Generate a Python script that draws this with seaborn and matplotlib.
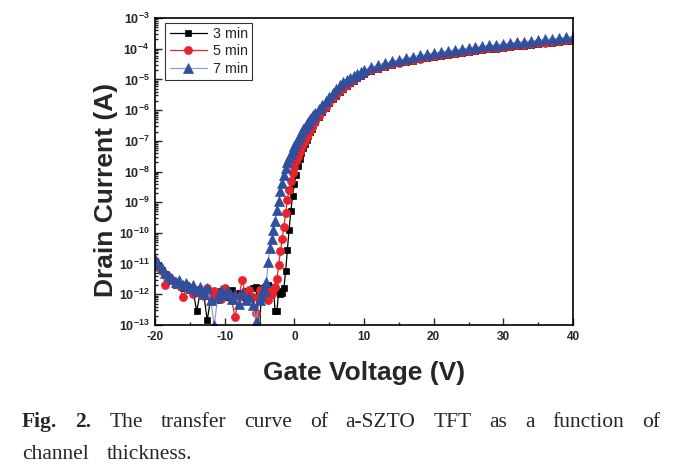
import numpy as np
import pandas as pd
import matplotlib
matplotlib.use('Agg')
import matplotlib.pyplot as plt
import seaborn as sns
from matplotlib.ticker import FixedLocator, LogLocator, FuncFormatter, NullFormatter

# gate voltage sweep (V)
vg_off = [-20, -19.5, -19, -18.5, -18, -17.5, -17, -16.5, -16, -15.5, -15, -14.5, -14, -13.5, -13,
          -12.5, -12, -11.5, -11, -10.5, -10, -9.5, -9, -8.5, -8, -7.5, -7, -6.5, -6, -5.5]
vg_mid = [-5, -4.75, -4.5, -4.25, -4, -3.75, -3.5, -3.25, -3, -2.75, -2.5, -2.25, -2, -1.75, -1.5, -1.25,
          -1, -0.75, -0.5, -0.25, 0, 0.25, 0.5, 0.75, 1, 1.25, 1.5, 1.75, 2, 2.25, 2.5, 2.75]
vg_on1 = [3, 3.5, 4, 4.5, 5, 5.5, 6, 6.5, 7, 7.5, 8, 8.5, 9, 9.5, 10]
vg_on2 = [11, 12, 13, 14, 15, 16, 17, 18, 19, 20, 21, 22, 23, 24, 25, 26, 27, 28, 29, 30,
          31, 32, 33, 34, 35, 36, 37, 38, 39, 40]
gate_v = vg_off + vg_mid + vg_on1 + vg_on2

# log10 of drain current (A)
log_id_3min = [-10.9, -11.05, -11.2, -11.35, -11.45, -11.55, -11.7, -11.65, -11.8, -11.7, -11.85, -11.95, -12.55, -11.9, -12.0,
               -12.85, -12.1, -11.95, -12.2, -11.9, -12.1, -12.0, -11.85, -12.2, -11.95, -12.1, -11.9, -12.05, -11.8, -11.75,
               -13.5, -11.8, -11.85, -11.75, -11.8, -11.7, -11.8, -11.75, -11.85, -12.55, -12.55, -11.9, -12.0, -11.95, -11.8, -11.25,
               -10.55, -9.9, -9.28, -8.8, -8.42, -8.1, -7.82, -7.6, -7.4, -7.24, -7.1, -6.97, -6.84, -6.72, -6.6, -6.5,
               -6.40, -6.23, -6.07, -5.92, -5.78, -5.65, -5.54, -5.42, -5.31, -5.21, -5.12, -5.04, -4.96, -4.89, -4.83,
               -4.73, -4.65, -4.59, -4.53, -4.48, -4.44, -4.39, -4.35, -4.31, -4.27, -4.23, -4.20, -4.17, -4.14, -4.11,
               -4.08, -4.05, -4.02, -4.00, -3.97, -3.95, -3.92, -3.90, -3.88, -3.85, -3.83, -3.81, -3.79, -3.76, -3.74]
log_id_5min = [-10.9, -11.1, -11.25, -11.7, -11.45, -11.55, -11.65, -11.7, -12.1, -11.75, -11.8, -12.0, -11.85, -11.95, -12.05,
               -11.8, -12.1, -11.9, -12.0, -12.15, -11.8, -11.95, -12.2, -12.75, -12.1, -11.55, -12.0, -11.85, -12.1, -12.6,
               -11.85, -12.0, -11.9, -12.1, -11.95, -12.2, -11.9, -12.0, -11.85, -11.75, -11.5, -11.05, -10.6, -10.2, -9.8, -9.35,
               -8.92, -8.6, -8.3, -8.05, -7.84, -7.67, -7.52, -7.38, -7.24, -7.12, -7.0, -6.89, -6.77, -6.65, -6.54, -6.45,
               -6.36, -6.20, -6.04, -5.89, -5.75, -5.62, -5.51, -5.39, -5.28, -5.18, -5.09, -5.01, -4.93, -4.86, -4.80,
               -4.70, -4.62, -4.56, -4.50, -4.45, -4.41, -4.36, -4.32, -4.28, -4.24, -4.20, -4.17, -4.14, -4.11, -4.08,
               -4.05, -4.02, -3.99, -3.97, -3.94, -3.92, -3.89, -3.87, -3.85, -3.82, -3.80, -3.78, -3.76, -3.73, -3.71]
log_id_7min = [-10.85, -11.0, -11.15, -11.3, -11.4, -11.5, -11.6, -11.55, -11.7, -11.62, -11.8, -11.7, -11.9, -11.75, -12.0,
               -11.8, -12.2, -13.0, -12.1, -11.85, -12.0, -11.9, -12.15, -12.0, -12.3, -11.95, -12.2, -12.1, -12.35, -12.9,
               -12.2, -12.05, -11.85, -11.9, -11.6, -10.95, -10.5, -10.2, -9.9, -9.6, -9.27, -8.95, -8.65, -8.36, -8.1, -7.88,
               -7.7, -7.55, -7.42, -7.3, -7.18, -7.06, -6.94, -6.83, -6.73, -6.63, -6.54, -6.46, -6.38, -6.30, -6.23, -6.16,
               -6.09, -5.96, -5.83, -5.70, -5.56, -5.43, -5.30, -5.19, -5.10, -5.02, -4.95, -4.88, -4.81, -4.75, -4.69,
               -4.61, -4.53, -4.47, -4.41, -4.36, -4.31, -4.26, -4.22, -4.18, -4.14, -4.10, -4.07, -4.04, -4.01, -3.98,
               -3.95, -3.92, -3.89, -3.87, -3.84, -3.82, -3.79, -3.77, -3.75, -3.72, -3.70, -3.68, -3.66, -3.63, -3.61]

series_labels = ['3 min', '5 min', '7 min']
caption_line1 = ['Fig.', '2.', 'The', 'transfer', 'curve', 'of', 'a-SZTO', 'TFT', 'as', 'a', 'function', 'of']
caption_line2 = ['channel', 'thickness.']

sns.set_theme(style='ticks')
plt.rcParams['font.family'] = ['Liberation Sans', 'DejaVu Sans']
plt.rcParams['mathtext.fontset'] = 'custom'
plt.rcParams['mathtext.bf'] = 'Liberation Sans:bold'
plt.rcParams['mathtext.rm'] = 'Liberation Sans:bold'

df = pd.DataFrame({
    'vg': gate_v * 3,
    'id': 10 ** np.array(log_id_3min + log_id_5min + log_id_7min),
    'time': np.repeat(series_labels, len(gate_v)),
})

fig = plt.figure(figsize=(6.78, 4.72), dpi=100)
ax = fig.add_axes([155 / 678, 1 - 325 / 472, (573 - 155) / 678, (325 - 18) / 472])

styles = {
    '3 min': dict(color='black', marker='s', ms=5.0, mfc='black', mec='black'),
    '5 min': dict(color='#e8232b', marker='o', ms=5.8, mfc='#e8232b', mec='#e8232b'),
    '7 min': dict(color='#8da2cf', marker='^', ms=6.6, mfc='#2f4f9f', mec='#2f4f9f'),
}
for lab in series_labels:
    sub = df[df['time'] == lab]
    sns.lineplot(data=sub, x='vg', y='id', ax=ax, label=lab, lw=0.9, mew=0.5, **styles[lab])

ax.set_yscale('log')
ax.set_xlim(-20, 40)
ax.set_ylim(1e-13, 1e-3)
ax.xaxis.set_major_locator(FixedLocator([-20, -10, 0, 10, 20, 30, 40]))
ax.xaxis.set_minor_locator(FixedLocator([-15, -5, 5, 15, 25, 35]))
ax.yaxis.set_major_locator(LogLocator(base=10, numticks=20))
ax.yaxis.set_minor_locator(LogLocator(base=10, subs=np.arange(2, 10), numticks=20))
ax.yaxis.set_minor_formatter(NullFormatter())
ax.yaxis.set_major_formatter(FuncFormatter(lambda v, p: r'$\mathbf{10^{%d}}$' % round(np.log10(v))))
ax.xaxis.set_major_formatter(FuncFormatter(lambda v, p: '%d' % v))
ax.tick_params(which='both', direction='in', top=False, right=False, width=1)
ax.tick_params(axis='x', which='major', length=5, labelsize=8.5, pad=4)
ax.tick_params(axis='y', which='major', length=5, labelsize=9, pad=4)
ax.tick_params(which='minor', length=2.5)
for t in ax.get_xticklabels():
    t.set_fontweight('bold')
for s in ax.spines.values():
    s.set_visible(True)
    s.set_linewidth(1.2)
    s.set_color('black')

ax.set_xlabel('Gate Voltage (V)', fontsize=19, fontweight='bold', labelpad=13)
ax.set_ylabel('Drain Current (A)', fontsize=19, fontweight='bold', labelpad=2)
ax.yaxis.set_label_coords(-0.088, 0.44)

leg = ax.legend(loc='upper left', bbox_to_anchor=(0.025, 0.985), fontsize=10.3, frameon=True,
                fancybox=False, edgecolor='black', handlelength=2.6, handletextpad=0.4,
                borderpad=0.3, labelspacing=0.25, borderaxespad=0)
leg.get_frame().set_linewidth(0.8)

# justified caption under the chart
fig.canvas.draw()
renderer = fig.canvas.get_renderer()
left_px, right_px = 22, 660
texts = []
for i, w in enumerate(caption_line1):
    t = fig.text(0, 1 - 427 / 472, w, family='Liberation Serif', fontsize=15.5,
                 fontweight='bold' if i < 2 else 'normal', va='baseline', ha='left')
    texts.append(t)
widths = [t.get_window_extent(renderer).width for t in texts]
gap = (right_px - left_px - sum(widths)) / (len(texts) - 1)
x = left_px
for t, w in zip(texts, widths):
    t.set_x(x / 678)
    x += w + gap
x = left_px
for w in caption_line2:
    t = fig.text(x / 678, 1 - 459 / 472, w, family='Liberation Serif', fontsize=15.5,
                 va='baseline', ha='left')
    x += t.get_window_extent(renderer).width + gap

fig.savefig('out.png', dpi=100)
